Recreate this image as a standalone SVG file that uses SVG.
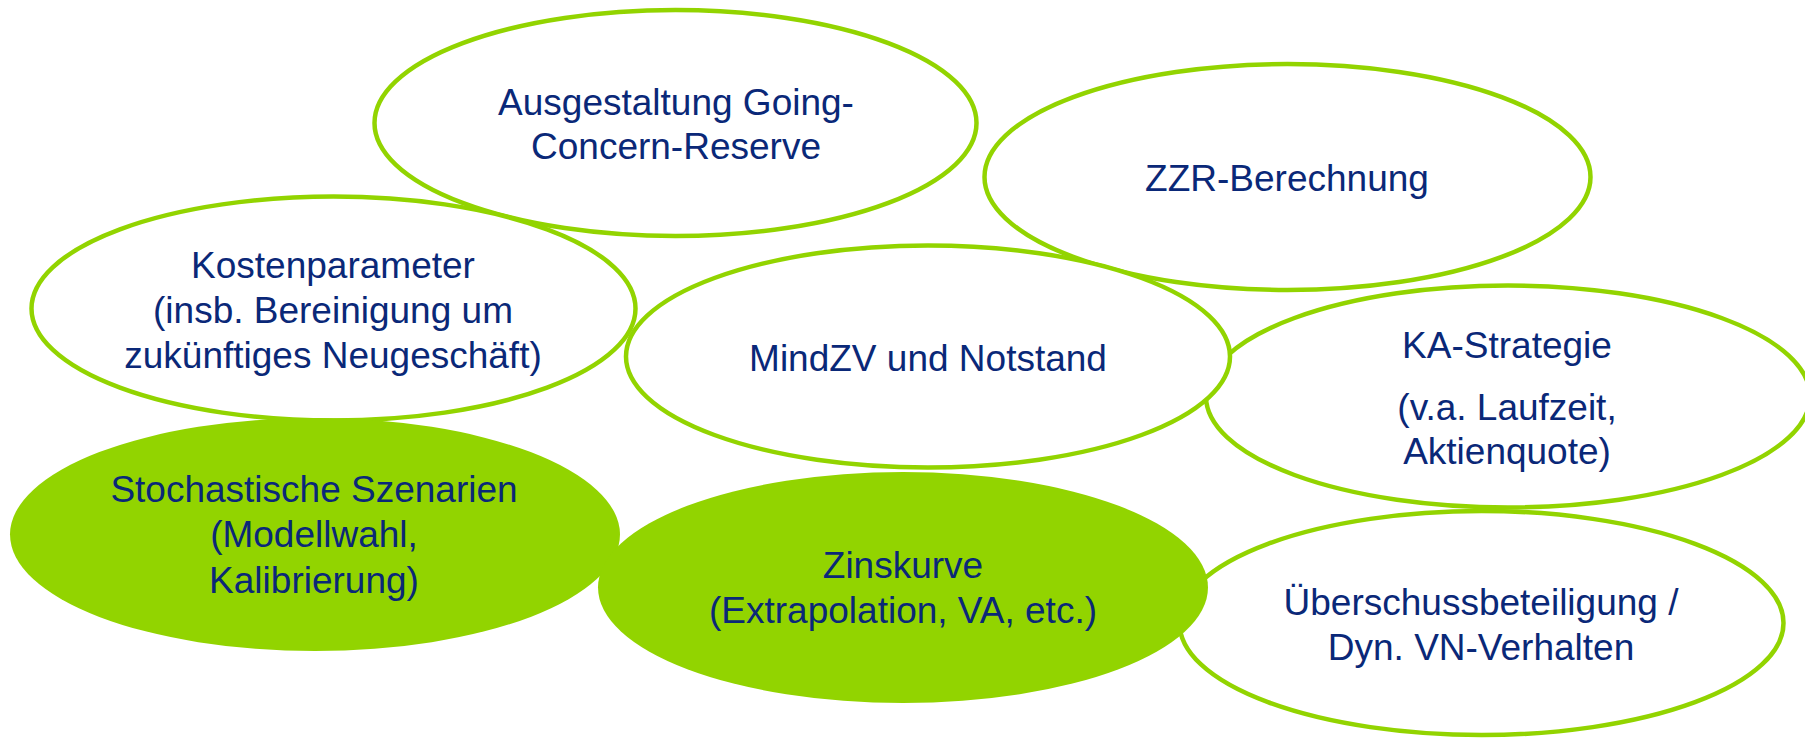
<svg xmlns="http://www.w3.org/2000/svg" width="1805" height="738" viewBox="0 0 1805 738">
  <style>
    .bubble { fill: #ffffff; stroke: #92d400; stroke-width: 4.5; }
    .solid { fill: #92d400; stroke: none; }
    .label { font-family: "Liberation Sans", Arial, sans-serif; font-size: 37px; fill: #0a2878; text-anchor: middle; }
  </style>
  <rect width="1805" height="738" fill="#ffffff"/>

  <!-- topic bubbles; later ones sit on top of earlier ones where they overlap -->
  <g id="going-concern">
    <ellipse class="bubble" cx="675.5" cy="123" rx="301" ry="113"/>
    <text class="label"><tspan x="676" y="115">Ausgestaltung Going-</tspan><tspan x="676" y="159">Concern-Reserve</tspan></text>
  </g>

  <g id="zzr">
    <ellipse class="bubble" cx="1287.5" cy="177" rx="303" ry="113"/>
    <text class="label" x="1287" y="191">ZZR-Berechnung</text>
  </g>

  <g id="kosten">
    <ellipse class="bubble" cx="333.5" cy="308.5" rx="302" ry="112"/>
    <text class="label"><tspan x="333" y="278">Kostenparameter</tspan><tspan x="333" y="323">(insb. Bereinigung um</tspan><tspan x="333" y="368">zukünftiges Neugeschäft)</tspan></text>
  </g>

  <g id="ka-strategie">
    <ellipse class="bubble" cx="1508" cy="396.5" rx="302" ry="111"/>
    <text class="label"><tspan x="1507" y="358">KA-Strategie</tspan><tspan x="1507" y="420">(v.a. Laufzeit,</tspan><tspan x="1507" y="464">Aktienquote)</tspan></text>
  </g>

  <g id="mindzv">
    <ellipse class="bubble" cx="928" cy="356.5" rx="302" ry="111"/>
    <text class="label" x="928" y="371">MindZV und Notstand</text>
  </g>

  <g id="ueberschuss">
    <ellipse class="bubble" cx="1481.5" cy="623" rx="302" ry="112"/>
    <text class="label"><tspan x="1481" y="615">Überschussbeteiligung /</tspan><tspan x="1481" y="660">Dyn. VN-Verhalten</tspan></text>
  </g>

  <g id="szenarien">
    <ellipse class="solid" cx="315" cy="534.5" rx="305" ry="116.5"/>
    <text class="label"><tspan x="314" y="502">Stochastische Szenarien</tspan><tspan x="314" y="547">(Modellwahl,</tspan><tspan x="314" y="593">Kalibrierung)</tspan></text>
  </g>

  <g id="zinskurve">
    <ellipse class="solid" cx="903" cy="587.5" rx="305" ry="115.5"/>
    <text class="label"><tspan x="903" y="578">Zinskurve</tspan><tspan x="903" y="623">(Extrapolation, VA, etc.)</tspan></text>
  </g>

  <!-- no connectors between the bubbles -->
  <g id="connectors"/>
</svg>
